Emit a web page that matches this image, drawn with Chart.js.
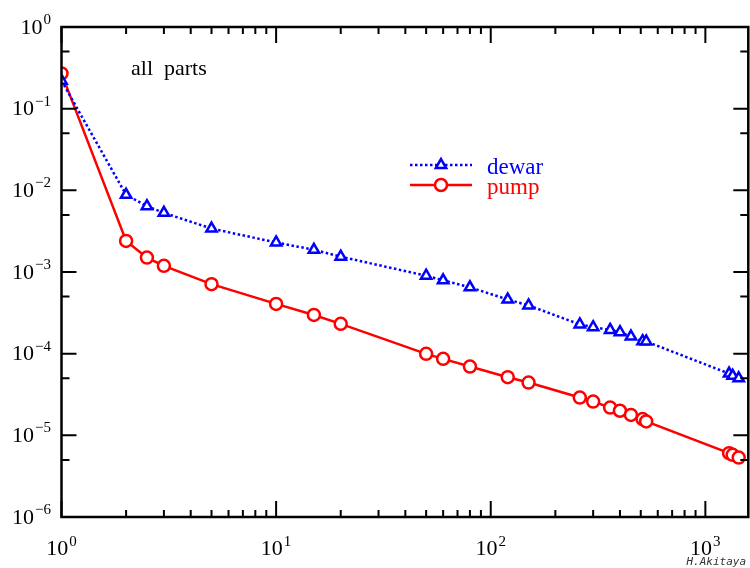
<!DOCTYPE html>
<html>
<head>
<meta charset="utf-8">
<script src="https://cdn.jsdelivr.net/npm/chart.js@4/dist/chart.umd.min.js"></script>
<style>
  body { margin: 0; background: #fff; }
</style>
</head>
<body>
<canvas id="partsChart" width="750" height="568"></canvas>
<script>
  // measured points (x shared by both series)
  const xValues = [1, 2, 2.5, 3, 5, 10, 15, 20, 50, 60, 80, 120, 150,
    260, 300, 360, 400, 450, 510, 530, 1290, 1340, 1430];
  const dewarValues = [0.22, 8.8e-3, 6.4e-3, 5.3e-3, 3.4e-3, 2.3e-3, 1.87e-3, 1.54e-3,
    9.0e-4, 7.9e-4, 6.5e-4, 4.6e-4, 3.9e-4,
    2.28e-4, 2.11e-4, 1.95e-4, 1.83e-4, 1.62e-4, 1.42e-4, 1.41e-4,
    5.7e-5, 5.35e-5, 5.0e-5];
  const pumpValues = [0.27, 2.4e-3, 1.5e-3, 1.19e-3, 7.1e-4, 4.07e-4, 2.98e-4, 2.32e-4,
    9.95e-5, 8.64e-5, 6.95e-5, 5.15e-5, 4.43e-5,
    2.9e-5, 2.59e-5, 2.19e-5, 2.0e-5, 1.78e-5, 1.58e-5, 1.48e-5,
    6.05e-6, 5.77e-6, 5.35e-6];
  const xTickExps = [0, 1, 2, 3];
  const yTickExps = [0, -1, -2, -3, -4, -5, -6];
  const seriesNames = ["dewar", "pump"];
  const noteText = "all  parts";
  const creditText = "H.Akitaya";

  const serif = "'Liberation Serif', 'Times New Roman', serif";

  function pairs(ys) {
    return xValues.map((x, i) => ({ x: x, y: ys[i] }));
  }

  function supLabel(ctx, exp, x, baseY, align) {
    const base = "10";
    const sup = String(exp).replace("-", "\u2212");
    ctx.font = "22px " + serif;
    const wb = ctx.measureText(base).width;
    ctx.font = "15px " + serif;
    const we = ctx.measureText(sup).width;
    const total = wb + 1 + we;
    let x0 = align === "right" ? x - total : x - total / 2;
    ctx.textAlign = "left";
    ctx.textBaseline = "alphabetic";
    ctx.font = "22px " + serif;
    ctx.fillText(base, x0, baseY);
    ctx.font = "15px " + serif;
    ctx.fillText(sup, x0 + wb + 1, baseY - 9.5);
  }

  const framePlugin = {
    id: "frame",
    afterDatasetsDraw(chart) {
      const ctx = chart.ctx;
      const { left, right, top, bottom } = chart.chartArea;
      const xs = chart.scales.x;
      const ys = chart.scales.y;
      ctx.save();
      ctx.strokeStyle = "#000";
      ctx.fillStyle = "#000";

      // inward ticks
      ctx.lineWidth = 2;
      ctx.beginPath();
      for (const e of xTickExps) {
        for (let m = 1; m <= 9; m++) {
          const v = m * Math.pow(10, e);
          if (v < xs.min || v > xs.max) continue;
          const px = xs.getPixelForValue(v);
          const len = m === 1 ? 16 : 7;
          ctx.moveTo(px, bottom); ctx.lineTo(px, bottom - len);
          ctx.moveTo(px, top); ctx.lineTo(px, top + len);
        }
      }
      for (const e of yTickExps) {
        for (const m of [1, 5]) {
          const v = m * Math.pow(10, e);
          if (v < ys.min || v > ys.max) continue;
          const py = ys.getPixelForValue(v);
          const len = m === 1 ? 15 : 8;
          ctx.moveTo(left, py); ctx.lineTo(left + len, py);
          ctx.moveTo(right, py); ctx.lineTo(right - len, py);
        }
      }
      ctx.stroke();

      ctx.lineWidth = 2.5;
      ctx.strokeRect(left, top, right - left, bottom - top);

      // tick labels
      for (const e of yTickExps) {
        supLabel(ctx, e, 51, ys.getPixelForValue(Math.pow(10, e)) + 6.5, "right");
      }
      for (const e of xTickExps) {
        supLabel(ctx, e, xs.getPixelForValue(Math.pow(10, e)), 555, "center");
      }

      // note
      ctx.font = "22px " + serif;
      ctx.textAlign = "left";
      ctx.fillText(noteText, 131, 75);

      // legend
      const ds = chart.data.datasets;
      const rows = [165, 185];
      rows.forEach((ly, i) => {
        const d = ds[i];
        ctx.save();
        ctx.strokeStyle = d.borderColor;
        ctx.lineWidth = d.borderWidth;
        ctx.setLineDash(d.borderDash || []);
        ctx.beginPath();
        ctx.moveTo(410, ly); ctx.lineTo(472, ly);
        ctx.stroke();
        ctx.restore();
        ctx.save();
        ctx.strokeStyle = d.borderColor;
        ctx.fillStyle = "#fff";
        ctx.lineWidth = d.pointBorderWidth;
        Chart.helpers.drawPoint(ctx, { pointStyle: d.pointStyle, radius: d.pointRadius, borderWidth: d.pointBorderWidth, rotation: 0 }, 441, ly);
        ctx.restore();
        ctx.fillStyle = d.borderColor;
        ctx.font = "23px " + serif;
        ctx.fillText(d.label, 487, ly + 9);
      });

      // credit
      ctx.font = "italic 11px 'DejaVu Sans Mono', monospace";
      ctx.fillStyle = "#333";
      ctx.textAlign = "right";
      ctx.fillText(creditText, 746, 565);
      ctx.restore();
    }
  };

  const ctx = document.getElementById("partsChart").getContext("2d");
  new Chart(ctx, {
    type: "line",
    data: {
      datasets: [
        {
          label: seriesNames[0],
          data: pairs(dewarValues),
          borderColor: "#0000ff",
          borderWidth: 2.5,
          borderDash: [2.5, 2.5],
          pointStyle: "triangle",
          pointRadius: 6,
          pointBorderWidth: 2.5,
          pointBackgroundColor: "#fff",
          pointBorderColor: "#0000ff",
          tension: 0,
          clip: 0,
        },
        {
          label: seriesNames[1],
          data: pairs(pumpValues),
          borderColor: "#ff0000",
          borderWidth: 2.5,
          pointStyle: "circle",
          pointRadius: 6,
          pointBorderWidth: 2.5,
          pointBackgroundColor: "#fff",
          pointBorderColor: "#ff0000",
          tension: 0,
          clip: 0,
        },
      ],
    },
    options: {
      responsive: false,
      animation: false,
      layout: { autoPadding: false, padding: { left: 61.5, right: 1.7, top: 27, bottom: 51 } },
      scales: {
        x: { type: "logarithmic", min: 1, max: 1585, display: false },
        y: { type: "logarithmic", min: 1e-6, max: 1, display: false },
      },
      plugins: {
        legend: { display: false },
        tooltip: { enabled: false },
      },
    },
    plugins: [framePlugin],
  });
</script>
</body>
</html>
